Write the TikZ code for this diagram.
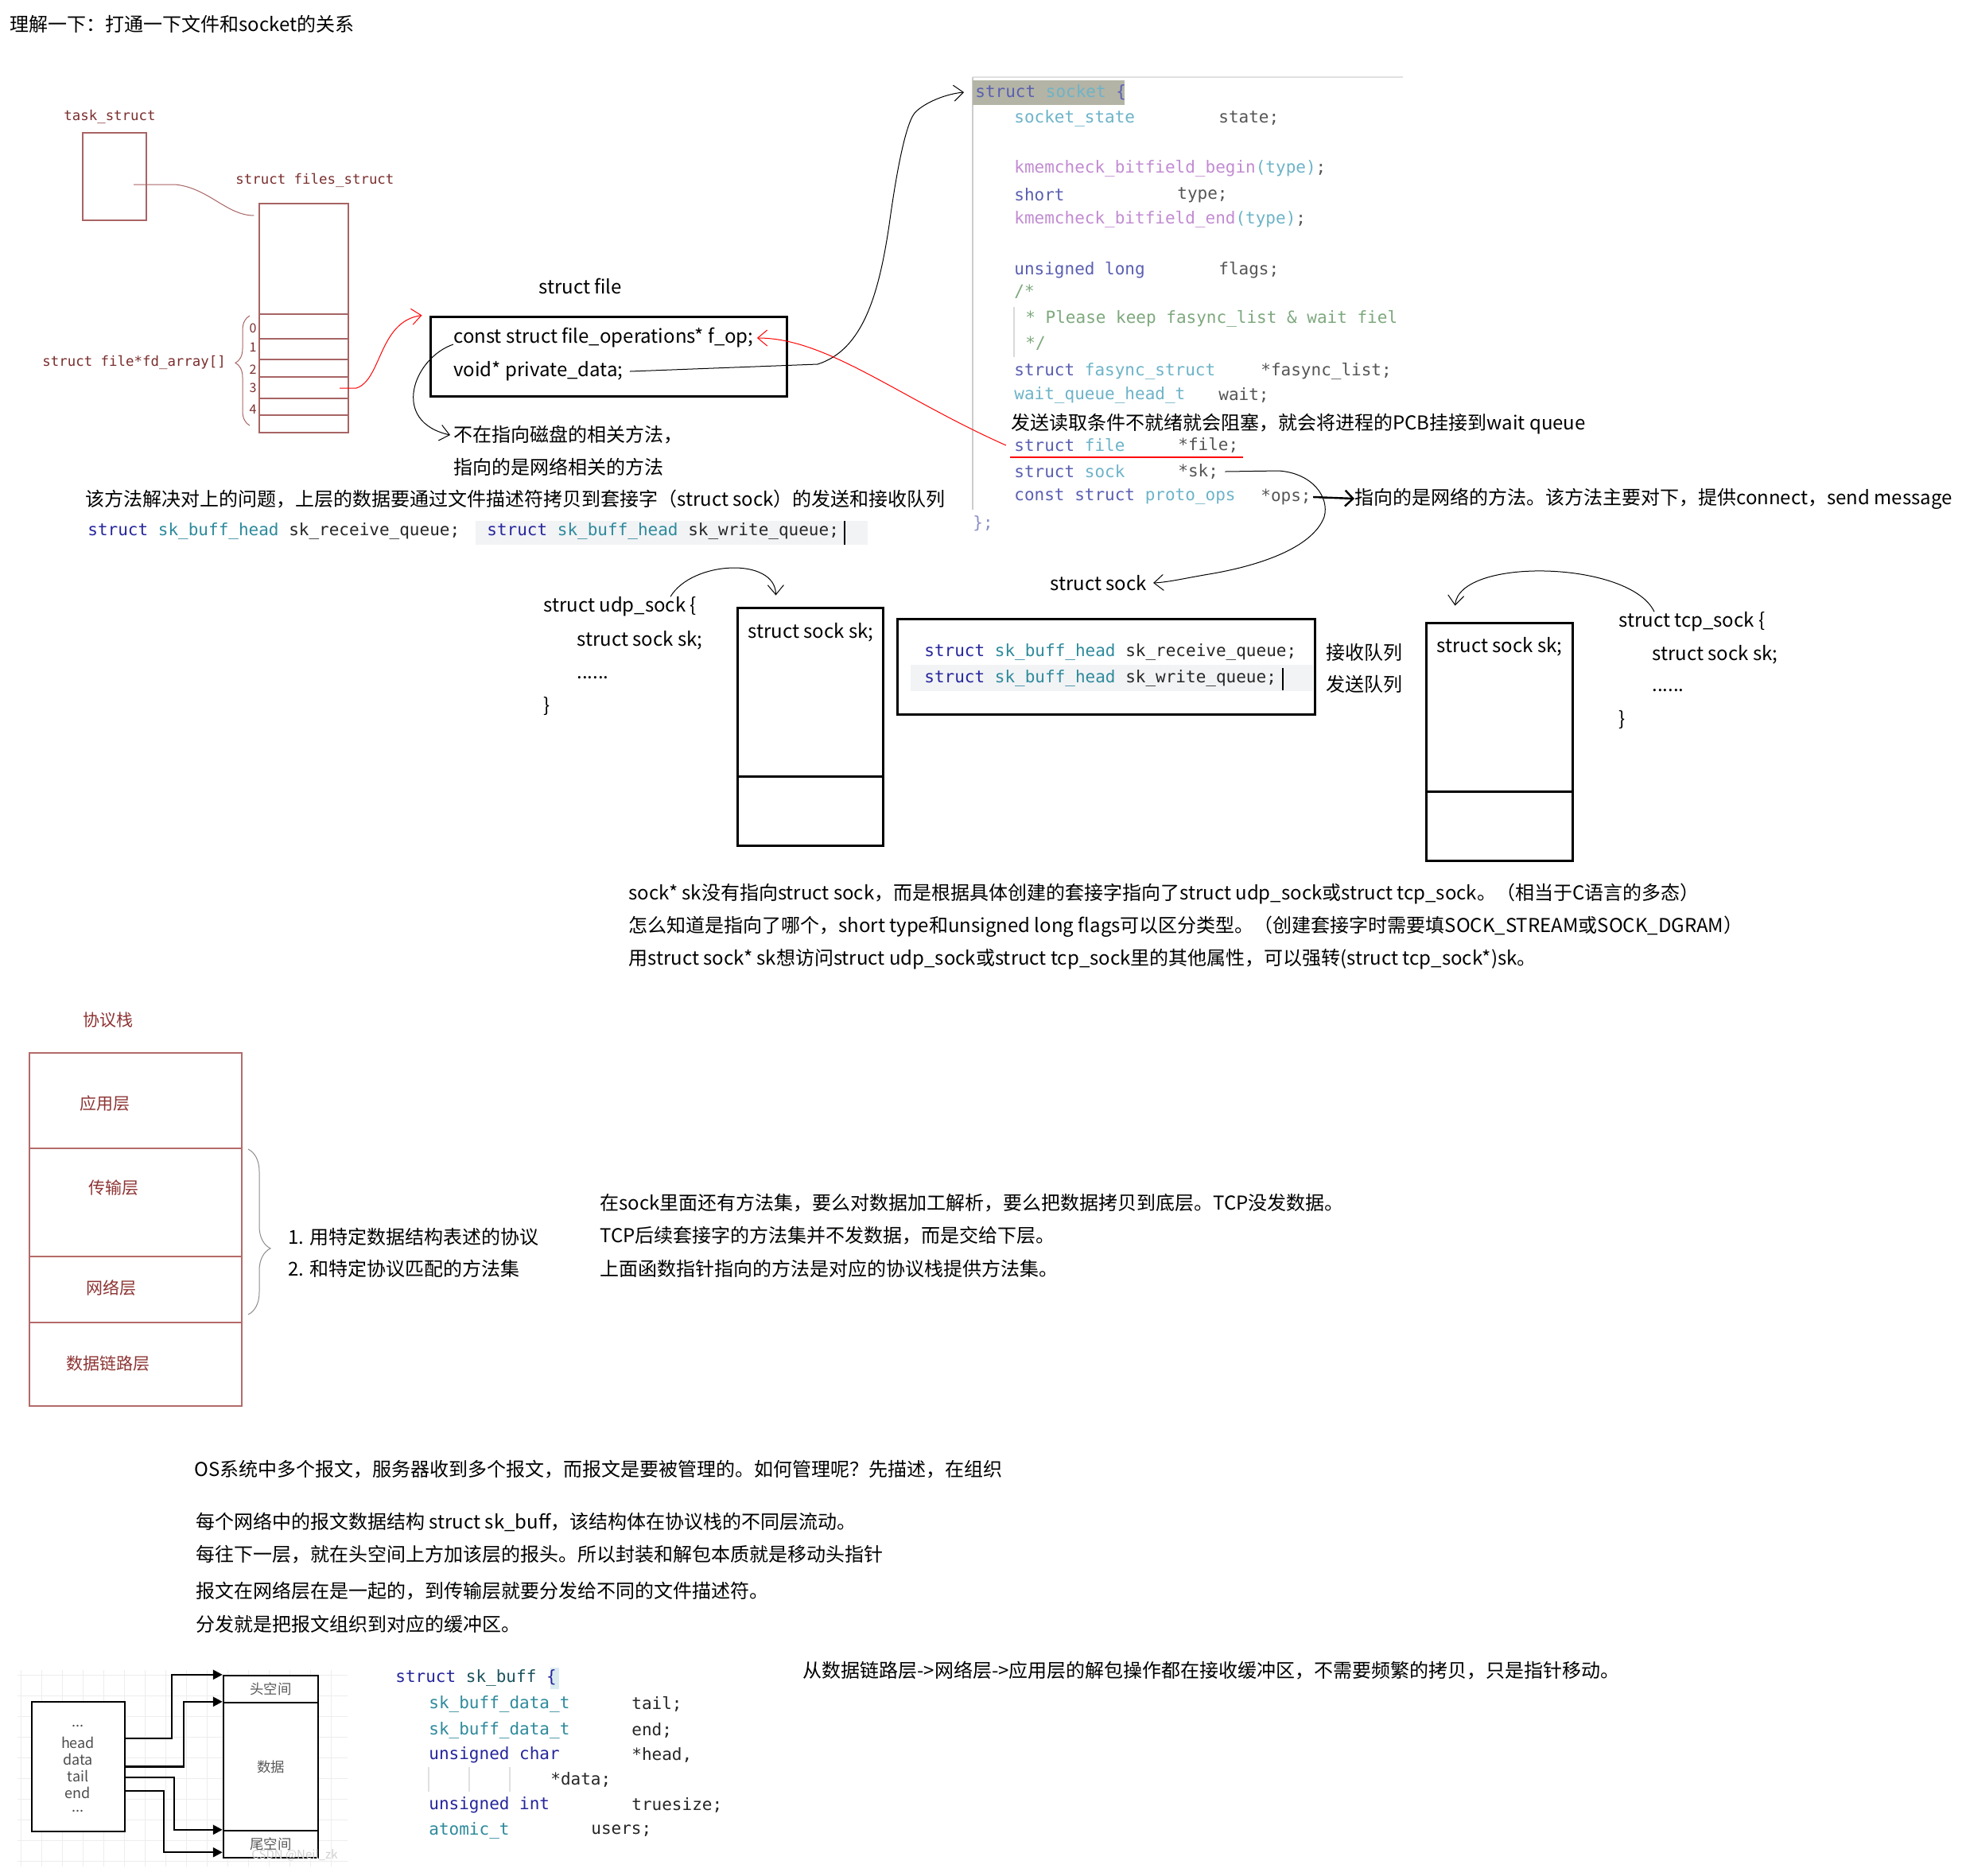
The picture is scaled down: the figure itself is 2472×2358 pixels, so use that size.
\documentclass[tikz,border=0pt]{standalone}
\usepackage{fontspec}
\setmainfont{Noto Sans CJK SC}
\newfontfamily\codefont{DejaVu Sans Mono}
\usepackage{xcolor}
\definecolor{brick}{HTML}{7B2E2E}
\definecolor{brickline}{HTML}{A86464}
\definecolor{kwblue}{HTML}{5A5FB0}
\definecolor{tyteal}{HTML}{6DB3C8}
\definecolor{fnpurple}{HTML}{C28BD2}
\definecolor{cmtgreen}{HTML}{7EA87E}
\definecolor{ident}{HTML}{555555}
\definecolor{navy}{HTML}{26269C}
\definecolor{teal2}{HTML}{2E8A9C}
\definecolor{hdrbg}{HTML}{B3B4A6}
\definecolor{softbg}{HTML}{F2F3F5}
\definecolor{gridc}{HTML}{EDEDED}
\definecolor{layerred}{HTML}{8E3434}
\definecolor{layerline}{HTML}{B46A6A}
\usepackage{tikz}
\usetikzlibrary{arrows.meta,positioning,calc,decorations.pathreplacing}

\begin{document}
\begin{tikzpicture}[x=0.5pt, y=-0.5pt,
    txt/.style={anchor=west, inner sep=0pt, font=\fontsize{12}{14}\selectfont},
    src/.style={anchor=west, inner sep=0pt, text=ident, font=\codefont\fontsize{10.5}{12}\selectfont},
    handtxt/.style={anchor=west, inner sep=0pt, text=brick, font=\codefont\fontsize{8.7}{10}\selectfont},
    digit/.style={inner sep=0pt, text=brick, font=\fontsize{8}{9}\selectfont},
    layertxt/.style={anchor=west, inner sep=0pt, text=layerred, font=\fontsize{10.5}{12}\selectfont},
    thinbox/.style={draw=brickline, line width=0.6pt, inner sep=0pt},
    boldbox/.style={draw, line width=1.5pt, inner sep=0pt},
    stackbox/.style={draw=layerline, line width=0.6pt, minimum width=133.5pt, inner sep=0pt},
    bufbox/.style={draw, line width=1.2pt, inner sep=0pt, text=black!65, font=\fontsize{8.7}{10}\selectfont},
    buftxt/.style={inner sep=0pt, text=black!70, font=\fontsize{9}{10}\selectfont},
    handarrow/.style={line width=0.5pt, -{Straight Barb[length=6pt,width=10pt]}},
    redarrow/.style={handarrow, draw=red},
    ptrarrow/.style={line width=1.2pt, -{Triangle[length=6pt,width=6pt]}},
  ]
  \useasboundingbox (0,0) rectangle (2472,2358);
  \fill[white] (0,0) rectangle (2472,2358);

  \node[txt] (title) at (12,30) {理解一下：打通一下文件和socket的关系};

  % task_struct and files_struct
  \node[handtxt] (tasklbl) at (80,147) {task\_struct};
  \node[thinbox, minimum width=40pt, minimum height=55pt] (task) at (144,222) {};
  \node[handtxt] (fileslbl) at (296,227) {struct files\_struct};
  \node[thinbox, minimum width=56pt, minimum height=144pt] (files) at (382,400) {};
  \foreach \yy in {395,426,452,474,501,522}
    \draw[brickline, line width=0.6pt] (326,\yy) -- (438,\yy);
  \coordinate (taskptr) at (168,232);
  \draw[brickline, line width=0.5pt] (taskptr) -- (220,232)
    .. controls (262,236) and (285,271) .. ([xshift=-3pt]files.west |- 0,271);
  \draw[brickline, line width=0.5pt, decorate, decoration={brace, amplitude=9pt, aspect=0.57}]
    (314,535) -- (314,397);
  \node[handtxt] (fdlbl) at (53,456) {struct file*fd\_array[]};
  \node[digit] (d0) at (318,413) {0};
  \node[digit] (d1) at (318,437) {1};
  \node[digit] (d2) at (318,465) {2};
  \node[digit] (d3) at (318,488) {3};
  \node[digit] (d4) at (318,515) {4};

  % struct file
  \node[txt] (filelbl) at (677,360) {struct file};
  \node[boldbox, minimum width=224pt, minimum height=50pt] (filebox) at (765,448) {};
  \node[txt] (fop) at (570,425) {const struct file\_operations* f\_op;};
  \node[txt] (pdata) at (570,467) {void* private\_data;};
  \coordinate (fd3) at (427,488);
  \draw[redarrow] (fd3) -- (448,488) .. controls (480,478) and (476,404) .. ([xshift=-4.5pt]filebox.north west);
  \node[txt] (note1) at (570,547) {不在指向磁盘的相关方法，};
  \node[txt] (note2) at (570,587) {指向的是网络相关的方法};
  \draw[handarrow] ([yshift=-4pt]fop.west) .. controls (520,450) and (490,530) .. ([xshift=-2pt]note1.west);

  \node[txt] (copynote) at (107,627) {该方法解决对上的问题，上层的数据要通过文件描述符拷贝到套接字（struct sock）的发送和接收队列};
  \fill[softbg] (598,655) rectangle (1091,685);
  \node[src, text=black!85] (rq) at (110,668) {\textcolor{navy}{struct} \textcolor{teal2}{sk\_buff\_head} sk\_receive\_queue;};
  \node[src, text=black!85] (wq) at (612,668) {\textcolor{navy}{struct} \textcolor{teal2}{sk\_buff\_head} sk\_write\_queue;};
  \draw[line width=1pt] (1062,655) -- (1062,685);

  % struct socket
  \draw[black!12, line width=0.8pt] (1223,97) -- (1764,97);
  \draw[black!20, line width=0.8pt] (1223,97) -- (1223,641);
  \fill[hdrbg] (1223,101) rectangle (1414,132);
  \node[src] (sockhdr) at (1226,116) {\textcolor{kwblue}{struct} \textcolor{tyteal}{socket} \textcolor{kwblue}{\{}};
  \node[src] (ss1) at (1275,149) {\textcolor{tyteal}{socket\_state}};
  \node[src] (ss1v) at (1532,149) {state;};
  \node[src] (ss2) at (1275,212) {\textcolor{fnpurple}{kmemcheck\_bitfield\_begin}\textcolor{tyteal}{(type)};};
  \node[src] (ss3) at (1275,245) {\textcolor{kwblue}{short}};
  \node[src] (ss3v) at (1480,245) {type;};
  \node[src] (ss4) at (1275,276) {\textcolor{fnpurple}{kmemcheck\_bitfield\_end}\textcolor{tyteal}{(type)};};
  \node[src] (ss5) at (1275,340) {\textcolor{kwblue}{unsigned long}};
  \node[src] (ss5v) at (1532,340) {flags;};
  \node[src, text=cmtgreen] (ss6) at (1275,367) {/*};
  \draw[black!15, line width=0.8pt] (1275,386) -- (1275,449);
  \node[src, text=cmtgreen] (ss7) at (1289,401) {* Please keep fasync\_list \& wait fiel};
  \node[src, text=cmtgreen] (ss8) at (1289,432) {*/};
  \node[src] (ss9) at (1275,467) {\textcolor{kwblue}{struct} \textcolor{tyteal}{fasync\_struct}};
  \node[src] (ss9v) at (1585,467) {*fasync\_list;};
  \node[src] (ss10) at (1275,497) {\textcolor{tyteal}{wait\_queue\_head\_t}};
  \node[src] (ss10v) at (1532,497) {wait;};
  \node[txt] (waitnote) at (1271,533) {发送读取条件不就绪就会阻塞，就会将进程的PCB挂接到wait queue};
  \node[src] (sockfile) at (1275,560) {\textcolor{kwblue}{struct} \textcolor{tyteal}{file}};
  \node[src] (sockfilev) at (1481,560) {*file;};
  \draw[red, line width=1.2pt] (1270,575) -- (1563,575);
  \node[src] (socksk) at (1275,593) {\textcolor{kwblue}{struct} \textcolor{tyteal}{sock}};
  \node[src] (sockskv) at (1481,593) {*sk;};
  \node[src] (sockops) at (1275,625) {\textcolor{kwblue}{const struct} \textcolor{tyteal}{proto\_ops}};
  \node[src] (sockopsv) at (1585,625) {*ops;};
  \node[src, text=kwblue!70] (sockend) at (1223,658) {\};};

  \draw[handarrow] ([xshift=4pt]pdata.east) -- (1028,458)
    .. controls (1085,440) and (1105,370) .. (1118,283)
    .. controls (1128,210) and (1140,150) .. (1152,140)
    .. controls (1165,128) and (1190,118) .. ([xshift=-7pt]sockhdr.west);
  \draw[redarrow] ([xshift=-5pt]sockfile.west) .. controls (1130,500) and (1040,425) .. ([xshift=2pt]fop.east);

  \node[txt] (opsnote) at (1703,627) {指向的是网络的方法。该方法主要对下，提供connect，send message};
  \draw[line width=1.2pt, -{Straight Barb[length=5pt,width=10pt]}] ([xshift=1pt]sockopsv.east) -- (opsnote.west);

  % struct sock and its users
  \node[txt] (sockname) at (1320,733) {struct sock};
  \draw[handarrow] ([xshift=4pt]sockskv.east) -- (1608,592)
    .. controls (1650,595) and (1672,625) .. (1665,650)
    .. controls (1650,690) and (1580,712) .. (1520,722)
    .. controls (1490,727) and (1470,732) .. ([xshift=4pt]sockname.east);

  \node[txt] (udplbl) at (683,763) {struct udp\_sock \{};
  \node[txt] (udpsk) at (725,805) {struct sock sk;};
  \node[txt] (udpdots) at (725,852) {......};
  \node[txt] (udpend) at (683,888) {\}};
  \node[boldbox, minimum width=91.5pt, minimum height=149.5pt] (udpbox) at (1018.5,913.5) {};
  \draw[line width=1.5pt] (927,976) -- (1110,976);
  \node[txt] (udpboxsk) at (940,795) {struct sock sk;};
  \draw[handarrow] ([xshift=80pt]udplbl.north west) .. controls (870,705) and (975,700) .. ([xshift=25pt,yshift=7pt]udpbox.north west);

  \node[boldbox, minimum width=262.5pt, minimum height=60pt] (qbox) at (1390.5,838) {};
  \fill[softbg] (1145,836) rectangle (1651,869);
  \node[src, text=black!85] (rq2) at (1162,820) {\textcolor{navy}{struct} \textcolor{teal2}{sk\_buff\_head} sk\_receive\_queue;};
  \node[src, text=black!85] (wq2) at (1162,853) {\textcolor{navy}{struct} \textcolor{teal2}{sk\_buff\_head} sk\_write\_queue;};
  \draw[line width=1pt] (1613,840) -- (1613,868);
  \node[txt] (rqlbl) at (1667,820) {接收队列};
  \node[txt] (wqlbl) at (1667,860) {发送队列};

  \node[boldbox, minimum width=92pt, minimum height=149.5pt] (tcpbox) at (1885,932.5) {};
  \draw[line width=1.5pt] (1793,995) -- (1977,995);
  \node[txt] (tcpboxsk) at (1806,813) {struct sock sk;};
  \node[txt] (tcplbl) at (2035,782) {struct tcp\_sock \{};
  \node[txt] (tcpsk) at (2077,823) {struct sock sk;};
  \node[txt] (tcpdots) at (2077,868) {......};
  \node[txt] (tcpend) at (2035,905) {\}};
  \draw[handarrow] ([xshift=22.5pt]tcplbl.north west) .. controls (2050,705) and (1835,700) .. ([xshift=19pt,yshift=10pt]tcpbox.north west);

  \node[txt] (poly1) at (790,1124) {sock* sk没有指向struct sock，而是根据具体创建的套接字指向了struct udp\_sock或struct tcp\_sock。（相当于C语言的多态）};
  \node[txt] (poly2) at (790,1165) {怎么知道是指向了哪个，short type和unsigned long flags可以区分类型。（创建套接字时需要填SOCK\_STREAM或SOCK\_DGRAM）};
  \node[txt] (poly3) at (790,1206) {用struct sock* sk想访问struct udp\_sock或struct tcp\_sock里的其他属性，可以强转(struct tcp\_sock*)sk。};

  % protocol stack
  \node[layertxt] (stacklbl) at (104,1283) {协议栈};
  \node[stackbox, minimum height=60pt] (app) at (170.5,1384) {};
  \node[stackbox, minimum height=68pt] (trans) at (170.5,1512) {};
  \node[stackbox, minimum height=41.5pt] (net) at (170.5,1621.5) {};
  \node[stackbox, minimum height=52.5pt] (link) at (170.5,1715.5) {};
  \node[layertxt] (applbl) at (100,1387) {应用层};
  \node[layertxt] (translbl) at (111,1494) {传输层};
  \node[layertxt] (netlbl) at (108,1619) {网络层};
  \node[layertxt] (linklbl) at (83,1715) {数据链路层};
  \draw[black!45, line width=0.5pt, decorate, decoration={brace, amplitude=14pt, aspect=0.6}]
    (312,1445) -- (312,1653);
  \node[txt] (role1) at (362,1555) {1. 用特定数据结构表述的协议};
  \node[txt] (role2) at (362,1595) {2. 和特定协议匹配的方法集};

  \node[txt] (ops1) at (754,1513) {在sock里面还有方法集，要么对数据加工解析，要么把数据拷贝到底层。TCP没发数据。};
  \node[txt] (ops2) at (754,1554) {TCP后续套接字的方法集并不发数据，而是交给下层。};
  \node[txt] (ops3) at (754,1595) {上面函数指针指向的方法是对应的协议栈提供方法集。};

  \node[txt] (os1) at (244,1848) {OS系统中多个报文，服务器收到多个报文，而报文是要被管理的。如何管理呢？先描述，在组织};
  \node[txt] (skb1) at (246,1914) {每个网络中的报文数据结构 struct sk\_buff，该结构体在协议栈的不同层流动。};
  \node[txt] (skb2) at (246,1955) {每往下一层，就在头空间上方加该层的报头。所以封装和解包本质就是移动头指针};
  \node[txt] (skb3) at (246,2001) {报文在网络层在是一起的，到传输层就要分发给不同的文件描述符。};
  \node[txt] (skb4) at (246,2042) {分发就是把报文组织到对应的缓冲区。};
  \node[txt] (rxnote) at (1009,2101) {从数据链路层->网络层->应用层的解包操作都在接收缓冲区，不需要频繁的拷贝，只是指针移动。};

  % sk_buff layout
  \draw[gridc, step=13pt] (22,2100) grid (437,2347);
  \node[bufbox, fill=white, minimum width=58.5pt, minimum height=81.5pt] (lbox) at (98.5,2221.5) {};
  \node[buftxt] (dots1) at (98,2170) {...};
  \node[buftxt] (hd) at (98,2191) {head};
  \node[buftxt] (dt) at (98,2212) {data};
  \node[buftxt] (tl) at (98,2233) {tail};
  \node[buftxt] (en) at (98,2254) {end};
  \node[buftxt] (dots2) at (98,2277) {...};
  \node[bufbox, fill=white, minimum width=59.5pt, minimum height=17pt] (hroom) at (340.5,2124) {头空间};
  \node[bufbox, fill=white, minimum width=59.5pt, minimum height=80.5pt] (droom) at (340.5,2221.5) {数据};
  \node[bufbox, fill=white, minimum width=59.5pt, minimum height=17pt] (troom) at (340.5,2319) {尾空间};
  \draw[ptrarrow] ([yshift=17.75pt]lbox.east) -| ([xshift=-32pt]hroom.north west) -- (hroom.north west);
  \draw[ptrarrow] (lbox.east) -| ([xshift=-24.5pt]droom.north west) -- (droom.north west);
  \draw[ptrarrow] ([yshift=-6.75pt]lbox.east) -| ([xshift=-30.5pt]troom.north west) -- (troom.north west);
  \draw[ptrarrow] ([yshift=-15.25pt]lbox.east) -| ([xshift=-37pt,yshift=4pt]troom.south west) -- ([yshift=4pt]troom.south west);
  \node[anchor=west, inner sep=0pt, text=black!18, font=\fontsize{7.5}{8}\selectfont] (mark) at (316,2333) {CSDN @Neil\_zk};

  % struct sk_buff
  \fill[tyteal!25] (692,2097) rectangle (703,2124);
  \node[src, text=black!85] (skb0) at (497,2110) {\textcolor{navy}{struct} \textcolor{teal2!60!black}{sk\_buff} \textcolor{navy}{\{}};
  \node[src, text=black!85] (skbt) at (539,2143) {\textcolor{teal2}{sk\_buff\_data\_t}};
  \node[src, text=black!85] (skbtv) at (794,2143) {tail;};
  \node[src, text=black!85] (skbe) at (539,2176) {\textcolor{teal2}{sk\_buff\_data\_t}};
  \node[src, text=black!85] (skbev) at (794,2176) {end;};
  \node[src, text=black!85] (skbh) at (539,2207) {\textcolor{navy}{unsigned char}};
  \node[src, text=black!85] (skbhv) at (794,2207) {*head,};
  \foreach \xx in {539,590,641}
    \draw[black!12, line width=0.6pt] (\xx,2222) -- (\xx,2253);
  \node[src, text=black!85] (skbdv) at (692,2238) {*data;};
  \node[src, text=black!85] (skbs) at (539,2270) {\textcolor{navy}{unsigned int}};
  \node[src, text=black!85] (skbsv) at (794,2270) {truesize;};
  \node[src, text=black!85] (skbu) at (539,2302) {\textcolor{teal2}{atomic\_t}};
  \node[src, text=black!85] (skbuv) at (743,2302) {users;};
\end{tikzpicture}
\end{document}
